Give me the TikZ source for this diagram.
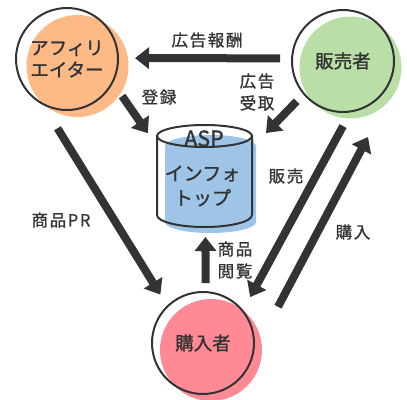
\documentclass[tikz,border=0pt]{standalone}
\usepackage{fontspec}
\setmainfont{Noto Sans CJK JP}
\newfontfamily\namefont[FakeBold=1.2]{Noto Sans CJK JP}
\newfontfamily\lblfont[LetterSpace=10,FakeBold=1]{Noto Sans CJK JP}
\usetikzlibrary{arrows.meta}

\definecolor{ink}{HTML}{333333}
\definecolor{affcol}{HTML}{FDBA87}
\definecolor{sellcol}{HTML}{B9DEA6}
\definecolor{buycol}{HTML}{FF8A96}
\definecolor{dbcol}{HTML}{9EC5E8}

\begin{document}
\begin{tikzpicture}[x=1pt, y=-1pt,
    person/.style={circle, draw=ink, line width=2pt, minimum size=102pt,
      inner sep=0pt, outer sep=0pt, align=center, text=ink,
      font=\namefont\fontsize{18.5}{22}\selectfont},
    blob/.style={circle, fill=#1, minimum size=102pt, inner sep=0pt},
    lbl/.style={align=center, text=ink, inner sep=0pt,
      font=\lblfont\fontsize{16.5}{22}\selectfont},
    arr/.style={draw=ink, line width=8pt, -{Triangle[width=21pt,length=14pt]}}]
    \useasboundingbox (0,0) rectangle (407,399);

    % coloured discs behind the outlines
    \node[blob=affcol] (afffill) at (77.5,66) {};
    \node[blob=sellcol] (sellfill) at (350.5,67.5) {};
    \node[blob=buycol] (buyfill) at (211,350) {};

    % the parties
    \node[person] (aff) at (67,59) {アフィリ\\エイター};
    \node[person] (sell) at (343,61) {販売者};
    \node[person] (buy) at (203,343) {購入者};

    % the ASP store drawn as a cylinder
    \node[minimum width=95pt, minimum height=102pt, inner sep=0pt, outer sep=0pt] (db) at (204.5,176) {};
    \begin{scope}[shift={(db.center)}]
      \fill[dbcol] (-39.5,-30) arc[start angle=180, end angle=360, x radius=45.5, y radius=11]
        -- (51.5,46) arc[start angle=0, end angle=180, x radius=45.5, y radius=11] -- cycle;
      \draw[ink, line width=2pt] (0,-40) ellipse[x radius=47.5, y radius=11];
      \draw[ink, line width=2pt] (-47.5,-40) -- (-47.5,39)
        arc[start angle=180, end angle=0, x radius=47.5, y radius=12] -- (47.5,-40);
    \end{scope}
    \node[text=ink, inner sep=0pt, font=\namefont\fontsize{21.5}{24}\selectfont] (asp) at (204,138.5) {ASP};
    \node[text=ink, inner sep=0pt, align=center, font=\namefont\fontsize{19}{24.5}\selectfont] (info) at (202.5,186) {インフォ\\トップ};

    % flows
    \draw[arr, shorten <=12pt, shorten >=17pt] (sell.177) -- (aff.1);
    \draw[arr, shorten <=16.9pt, shorten >=16pt] (aff.-27) -- (db.148.6);
    \draw[arr, shorten <=10.4pt, shorten >=20.1pt] (sell.220.1) -- (db.31);
    \draw[arr, shorten <=29pt, shorten >=13.7pt] (aff.-119.6) -- (buy.134.6);
    \draw[arr, shorten <=9pt, shorten >=10pt] (buy.87.8) -- (db.-89.4);
    \draw[arr, shorten <=16.7pt, shorten >=15.7pt] (sell.-81.2) -- (buy.39.3);
    \draw[arr, shorten <=54pt] (buy.-13.3) -- ([shift={(25,25)}]sell.south);

    % labels
    \node[lbl] (lreward) at (207,40) {広告報酬};
    \node[lbl] (lreg) at (159,97) {登録};
    \node[lbl] (lrecv) at (257,92) {広告\\受取};
    \node[lbl] (lpr) at (61,220) {商品PR};
    \node[lbl] (lview) at (235,260) {商品\\閲覧};
    \node[lbl] (lsell) at (286,176) {販売};
    \node[lbl] (lbuy) at (353,232) {購入};
\end{tikzpicture}
\end{document}
